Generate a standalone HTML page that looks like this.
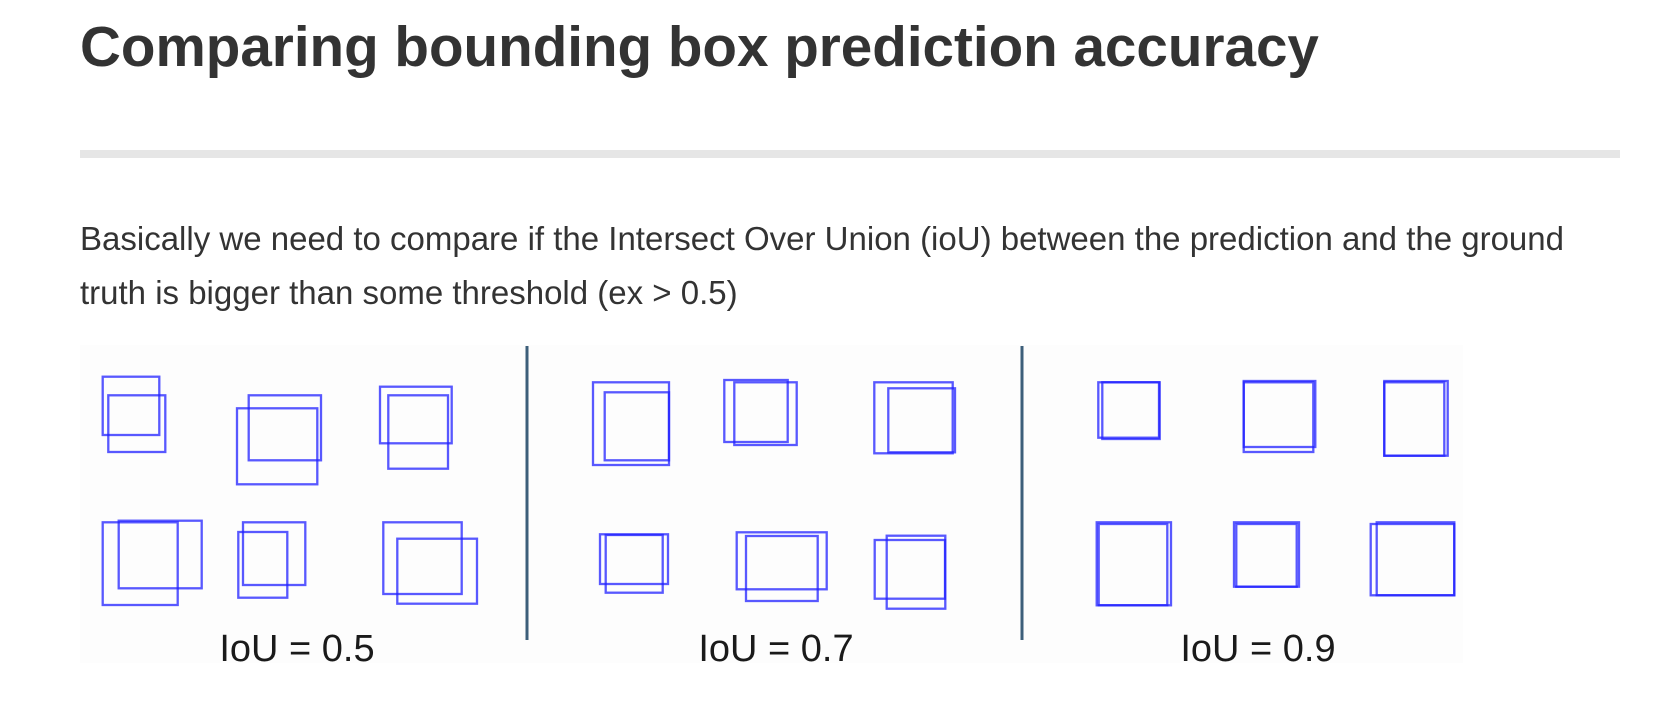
<!DOCTYPE html>
<html><head><meta charset="utf-8">
<style>
html,body{margin:0;padding:0;background:#fff;width:1664px;height:720px;overflow:hidden;}
body{position:relative;font-family:"Liberation Sans",Arial,sans-serif;color:#333;}
h1{position:absolute;left:80px;top:0;margin:0;font-size:56.6px;font-weight:bold;line-height:1;color:#333;}
.rule{position:absolute;left:80px;top:150px;width:1540px;height:8px;background:#e6e6e6;}
p{position:absolute;left:80px;margin:0;font-size:33px;color:#333;white-space:nowrap;line-height:1;}
svg{position:absolute;left:0;top:0;}
</style></head>
<body>
<h1 style="top:19px">Comparing bounding box prediction accuracy</h1>
<div class="rule"></div>
<p style="top:222px">Basically we need to compare if the Intersect Over Union (ioU) between the prediction and the ground</p>
<p style="top:276px">truth is bigger than some threshold (ex &gt; 0.5)</p>
<svg id="fig" width="1664" height="720">
<rect x="80" y="345" width="1383" height="318" fill="#fdfdfd"/>
</svg>
<script>
const NS="http://www.w3.org/2000/svg";
const svg=document.getElementById('fig');
// box pairs: [x1,y1,x2,y2]
const boxes=[
[102.7,376.7,159.3,435],[108.3,395.3,165.3,452],
[237,408.3,317.3,484.3],[248.7,395.3,321,460.3],
[380,386.7,451.7,443.3],[388.3,395.3,448,468.7],
[102.7,522.3,177.7,605],[118.7,520.7,201.7,588.3],
[238.3,532,287.3,597.7],[243,522.3,305.3,585],
[383.3,522.3,461.7,594],[397.3,538.7,477,603.7],
[593,382.3,669,465],[604.7,392.3,669,460.3],
[724.3,380,787.7,442],[734.3,382.3,796.7,445],
[874.3,382.3,952.7,453.3],[888.3,388.3,955,452.3],
[600,534.3,668,584],[605.7,535,662.7,592.7],
[736.7,532.3,826.7,589.3],[746,536,817.7,601],
[874.7,540,945,598.7],[886.7,535.7,945.3,608.7],
[1098.3,382.3,1159,437.7],[1102.3,382.3,1159.7,439],
[1243.7,381,1315.3,447],[1243.7,382.3,1313.3,452],
[1384.3,381,1447.7,455.7],[1384.3,382.3,1444.3,455.7],
[1096.7,522.3,1171,605.3],[1098.7,524,1167.3,605.3],
[1234,522.3,1299,586.7],[1236.3,524,1296.7,586.7],
[1370.7,524,1454.3,595.3],[1376.7,522.3,1454.3,595.3]
];
const dividers=[527,1022];
const labels=["IoU = 0.5","IoU = 0.7","IoU = 0.9"];
const labelCenters=[297,776,1258];
boxes.forEach(b=>{
  const r=document.createElementNS(NS,'rect');
  r.setAttribute('x',b[0]);r.setAttribute('y',b[1]);
  r.setAttribute('width',b[2]-b[0]);r.setAttribute('height',b[3]-b[1]);
  r.setAttribute('fill','none');r.setAttribute('stroke','#2020ff');
  r.setAttribute('stroke-opacity','0.75');r.setAttribute('stroke-width','2.3');
  
  
  svg.appendChild(r);
});
dividers.forEach(x=>{
  const l=document.createElementNS(NS,'line');
  l.setAttribute('x1',x);l.setAttribute('x2',x);l.setAttribute('y1',346);l.setAttribute('y2',640);
  l.setAttribute('stroke','#3d5f7a');l.setAttribute('stroke-width','3');
  
  
  svg.appendChild(l);
});
labels.forEach((t,i)=>{
  const tx=document.createElementNS(NS,'text');
  tx.setAttribute('x',labelCenters[i]);tx.setAttribute('y',661);
  tx.setAttribute('text-anchor','middle');
  tx.setAttribute('font-family','"Liberation Sans", sans-serif');
  tx.setAttribute('font-size','38');tx.setAttribute('fill','#1a1a1a');
  tx.textContent=t;
  
  
  svg.appendChild(tx);
});
</script>
</body></html>
